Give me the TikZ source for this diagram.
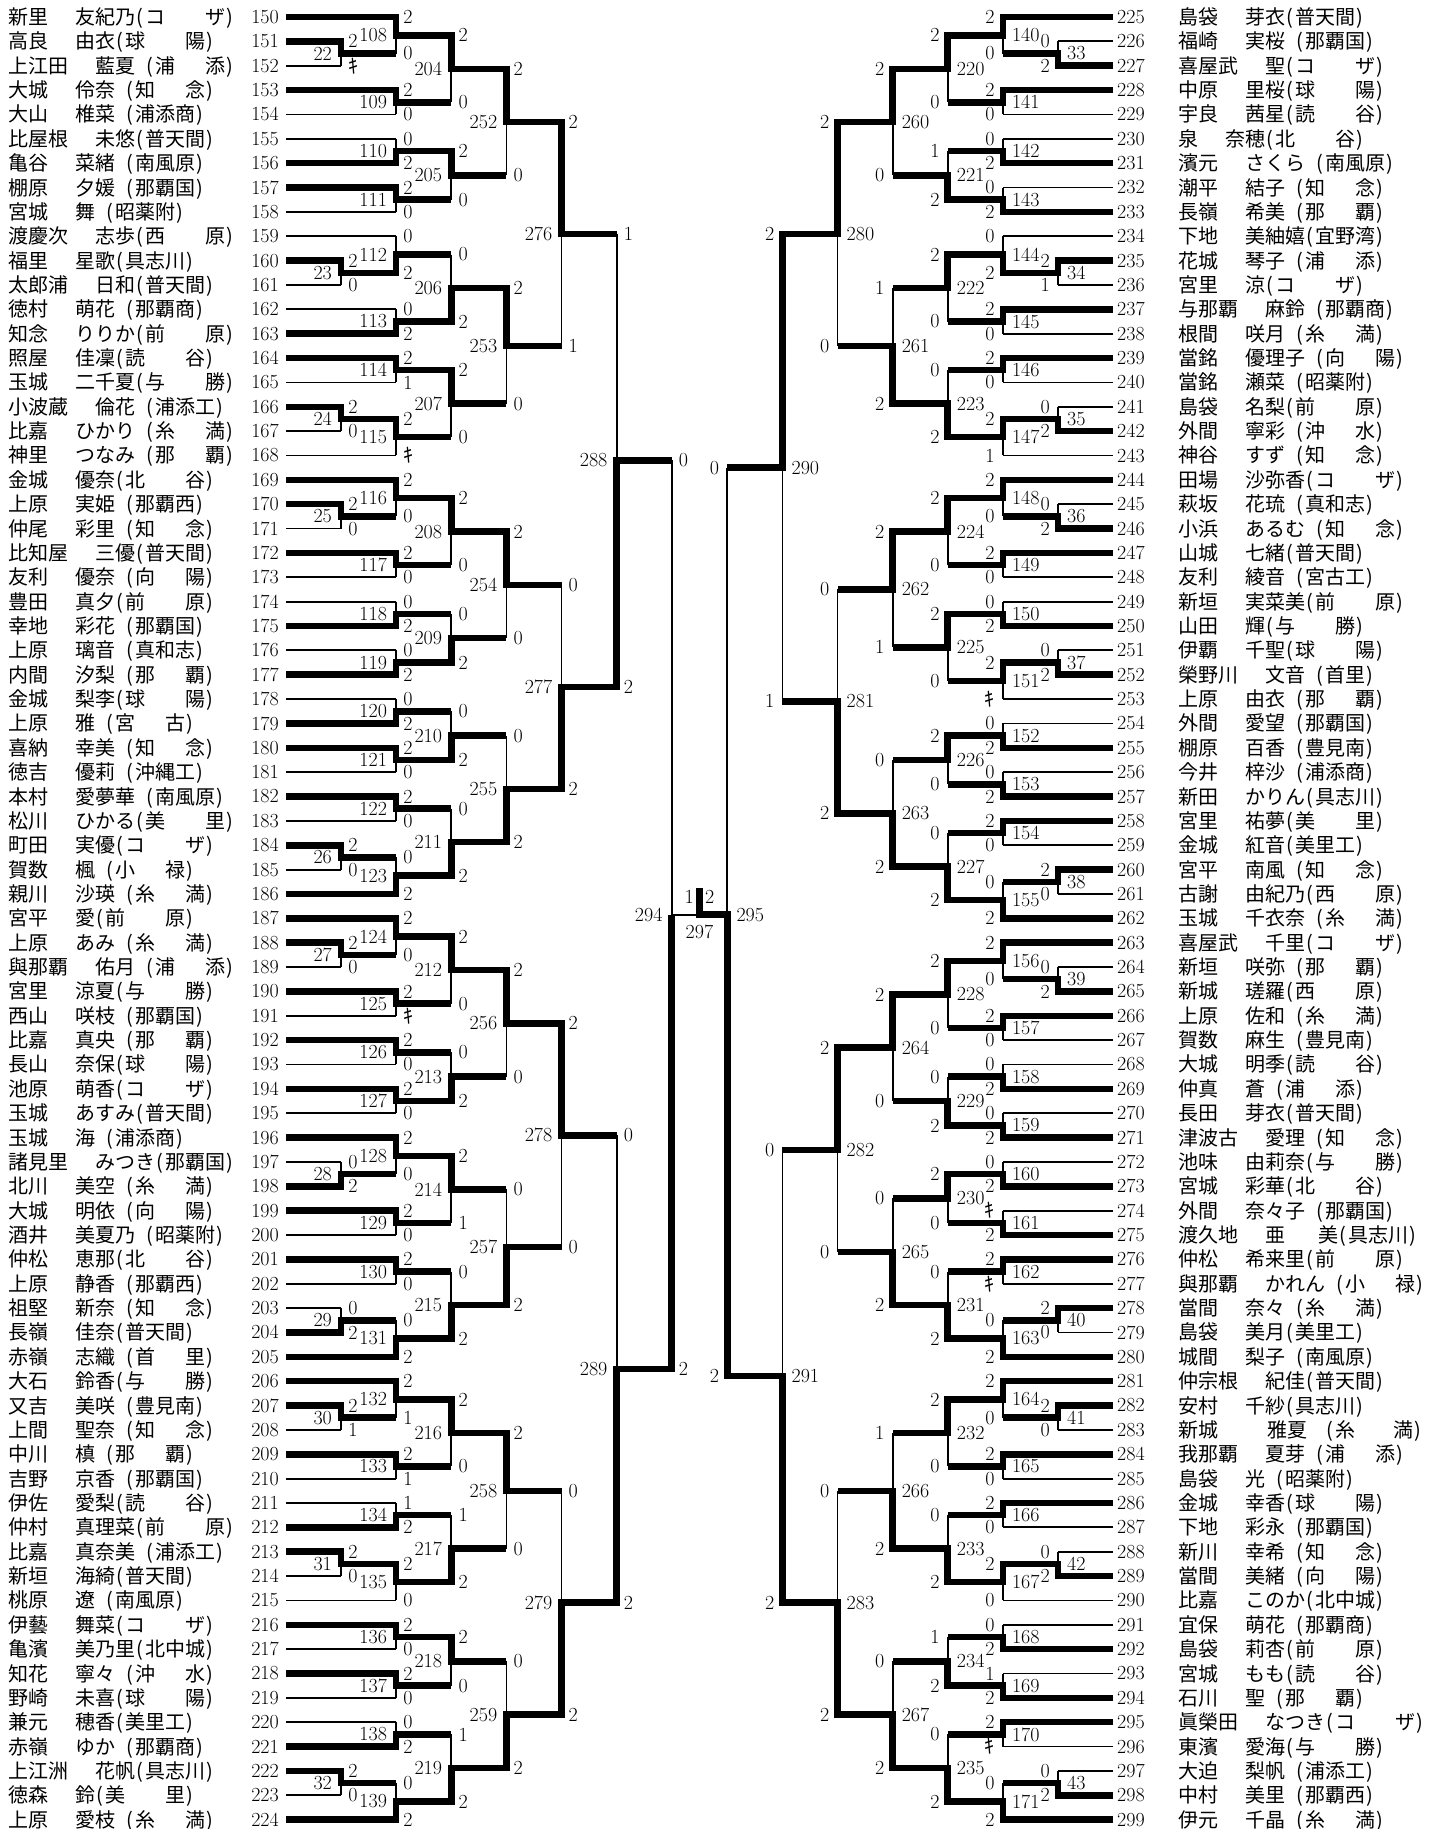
\documentclass[tikz,border=0pt]{standalone}
\usepackage{fontspec}
\newfontfamily\jp{Noto Sans CJK JP}
\usetikzlibrary{calc}
\newcommand\lp{\makebox[10pt]{(}}
\newcommand\rp{\makebox[10pt]{)}}
\newcommand\gp{\hspace{27pt}}
\newcommand\sA[2]{\lp#1\hspace{40pt}#2\rp}
\newcommand\sB[2]{\hspace{10pt}\lp#1\hspace{30pt}#2\rp}
\newcommand\tA[1]{\lp#1\rp}
\newcommand\tB[1]{\hspace{10pt}\lp#1\rp}
\newcommand\kk{{\jp ｷ}}
\tikzset{
 tk/.style={line width=6.5pt},
 tkm/.style={line width=6.5pt, shorten <=-3.25pt},
 tn/.style={line width=1.8pt},
 sc/.style={inner sep=0pt, font=\fontsize{20}{23}\selectfont},
 nm/.style={inner sep=0pt, anchor=base west, yshift=-7.5pt, font=\jp\fontsize{20}{24}\selectfont},
}
% players
\newcommand\PL[4]{%
 \coordinate (P#1) at (286,{#1-150});
 \node[sc,anchor=east] (n#1) at (279,{#1-150}) {#1};
 \node[nm] (t#1) at (8,{#1-150}) {#2\gp#3#4};}
\newcommand\PR[4]{%
 \coordinate (P#1) at (1113,{#1-225});
 \node[sc,anchor=west] (n#1) at (1117,{#1-225}) {#1};
 \node[nm] (t#1) at (1178,{#1-225}) {#2\gp#3#4};}
% matches: id, level, top, bottom, top style, bottom style, winner t/b, score top, score bottom
\newcommand\mdraw[7]{%
 \if t#7
  \draw[#5] (#3) -- (#3 -| M#1) -- (M#1);
  \draw[#6] (#4) -- (#4 -| M#1);
  \draw[tn] (M#1) -- (#4 -| M#1);
 \else
  \draw[#5] (#3) -- (#3 -| M#1);
  \draw[tn] (#3 -| M#1) -- (M#1);
  \draw[#6] (#4) -- (#4 -| M#1) -- (M#1);
 \fi}
\newcommand\mL[9]{%
 \coordinate (tmp) at ($(#3)!0.5!(#4)$);
 \coordinate (X#1) at ({286+55.1*#2},0);
 \coordinate (M#1) at (X#1 |- tmp);
 \mdraw{#1}{#2}{#3}{#4}{#5}{#6}{#7}
 \node[sc,anchor=west,xshift=7pt] (s#1a) at (#3 -| M#1) {#8};
 \node[sc,anchor=west,xshift=7pt] (s#1b) at (#4 -| M#1) {#9};
 \node[sc,anchor=east,xshift=-9pt] (m#1) at (M#1) {#1};}
\newcommand\mR[9]{%
 \coordinate (tmp) at ($(#3)!0.5!(#4)$);
 \coordinate (X#1) at ({1113-55.1*#2},0);
 \coordinate (M#1) at (X#1 |- tmp);
 \mdraw{#1}{#2}{#3}{#4}{#5}{#6}{#7}
 \node[sc,anchor=east,xshift=-8pt] (s#1a) at (#3 -| M#1) {#8};
 \node[sc,anchor=east,xshift=-8pt] (s#1b) at (#4 -| M#1) {#9};
 \node[sc,anchor=west,xshift=9pt] (m#1) at (M#1) {#1};}
\begin{document}
\begin{tikzpicture}[x=1pt,y={(0pt,-24.36pt)}]
\useasboundingbox[fill=white] (0,-0.69787) rectangle (1441,74.3842);
% ---------------- left players
\PL{150}{新里}{友紀乃}{\sA{コ}{ザ}}
\PL{151}{高良}{由衣}{\sA{球}{陽}}
\PL{152}{上江田}{藍夏}{\sB{浦}{添}}
\PL{153}{大城}{伶奈}{\sB{知}{念}}
\PL{154}{大山}{椎菜}{\tB{浦添商}}
\PL{155}{比屋根}{未悠}{\tA{普天間}}
\PL{156}{亀谷}{菜緒}{\tB{南風原}}
\PL{157}{棚原}{夕媛}{\tB{那覇国}}
\PL{158}{宮城}{舞}{\tB{昭薬附}}
\PL{159}{渡慶次}{志歩}{\sA{西}{原}}
\PL{160}{福里}{星歌}{\tA{具志川}}
\PL{161}{太郎浦}{日和}{\tA{普天間}}
\PL{162}{徳村}{萌花}{\tB{那覇商}}
\PL{163}{知念}{りりか}{\sA{前}{原}}
\PL{164}{照屋}{佳凜}{\sA{読}{谷}}
\PL{165}{玉城}{二千夏}{\sA{与}{勝}}
\PL{166}{小波蔵}{倫花}{\tB{浦添工}}
\PL{167}{比嘉}{ひかり}{\sB{糸}{満}}
\PL{168}{神里}{つなみ}{\sB{那}{覇}}
\PL{169}{金城}{優奈}{\sA{北}{谷}}
\PL{170}{上原}{実姫}{\tB{那覇西}}
\PL{171}{仲尾}{彩里}{\sB{知}{念}}
\PL{172}{比知屋}{三優}{\tA{普天間}}
\PL{173}{友利}{優奈}{\sB{向}{陽}}
\PL{174}{豊田}{真夕}{\sA{前}{原}}
\PL{175}{幸地}{彩花}{\tB{那覇国}}
\PL{176}{上原}{璃音}{\tB{真和志}}
\PL{177}{内間}{汐梨}{\sB{那}{覇}}
\PL{178}{金城}{梨李}{\sA{球}{陽}}
\PL{179}{上原}{雅}{\sB{宮}{古}}
\PL{180}{喜納}{幸美}{\sB{知}{念}}
\PL{181}{徳吉}{優莉}{\tB{沖縄工}}
\PL{182}{本村}{愛夢華}{\tB{南風原}}
\PL{183}{松川}{ひかる}{\sA{美}{里}}
\PL{184}{町田}{実優}{\sA{コ}{ザ}}
\PL{185}{賀数}{楓}{\sB{小}{禄}}
\PL{186}{親川}{沙瑛}{\sB{糸}{満}}
\PL{187}{宮平}{愛}{\sA{前}{原}}
\PL{188}{上原}{あみ}{\sB{糸}{満}}
\PL{189}{與那覇}{佑月}{\sB{浦}{添}}
\PL{190}{宮里}{涼夏}{\sA{与}{勝}}
\PL{191}{西山}{咲枝}{\tB{那覇国}}
\PL{192}{比嘉}{真央}{\sB{那}{覇}}
\PL{193}{長山}{奈保}{\sA{球}{陽}}
\PL{194}{池原}{萌香}{\sA{コ}{ザ}}
\PL{195}{玉城}{あすみ}{\tA{普天間}}
\PL{196}{玉城}{海}{\tB{浦添商}}
\PL{197}{諸見里}{みつき}{\tA{那覇国}}
\PL{198}{北川}{美空}{\sB{糸}{満}}
\PL{199}{大城}{明依}{\sB{向}{陽}}
\PL{200}{酒井}{美夏乃}{\tB{昭薬附}}
\PL{201}{仲松}{恵那}{\sA{北}{谷}}
\PL{202}{上原}{静香}{\tB{那覇西}}
\PL{203}{祖堅}{新奈}{\sB{知}{念}}
\PL{204}{長嶺}{佳奈}{\tA{普天間}}
\PL{205}{赤嶺}{志織}{\sB{首}{里}}
\PL{206}{大石}{鈴香}{\sA{与}{勝}}
\PL{207}{又吉}{美咲}{\tB{豊見南}}
\PL{208}{上間}{聖奈}{\sB{知}{念}}
\PL{209}{中川}{槙}{\sB{那}{覇}}
\PL{210}{吉野}{京香}{\tB{那覇国}}
\PL{211}{伊佐}{愛梨}{\sA{読}{谷}}
\PL{212}{仲村}{真理菜}{\sA{前}{原}}
\PL{213}{比嘉}{真奈美}{\tB{浦添工}}
\PL{214}{新垣}{海綺}{\tA{普天間}}
\PL{215}{桃原}{遼}{\tB{南風原}}
\PL{216}{伊藝}{舞菜}{\sA{コ}{ザ}}
\PL{217}{亀濱}{美乃里}{\tA{北中城}}
\PL{218}{知花}{寧々}{\sB{沖}{水}}
\PL{219}{野崎}{未喜}{\sA{球}{陽}}
\PL{220}{兼元}{穂香}{\tA{美里工}}
\PL{221}{赤嶺}{ゆか}{\tB{那覇商}}
\PL{222}{上江洲}{花帆}{\tA{具志川}}
\PL{223}{徳森}{鈴}{\sA{美}{里}}
\PL{224}{上原}{愛枝}{\sB{糸}{満}}
% ---------------- right players
\PR{225}{島袋}{芽衣}{\tA{普天間}}
\PR{226}{福崎}{実桜}{\tB{那覇国}}
\PR{227}{喜屋武}{聖}{\sA{コ}{ザ}}
\PR{228}{中原}{里桜}{\sA{球}{陽}}
\PR{229}{宇良}{茜星}{\sA{読}{谷}}
\PR{230}{泉}{奈穂}{\sA{北}{谷}}
\PR{231}{濱元}{さくら}{\tB{南風原}}
\PR{232}{潮平}{結子}{\sB{知}{念}}
\PR{233}{長嶺}{希美}{\sB{那}{覇}}
\PR{234}{下地}{美紬嬉}{\tA{宜野湾}}
\PR{235}{花城}{琴子}{\sB{浦}{添}}
\PR{236}{宮里}{涼}{\sA{コ}{ザ}}
\PR{237}{与那覇}{麻鈴}{\tB{那覇商}}
\PR{238}{根間}{咲月}{\sB{糸}{満}}
\PR{239}{當銘}{優理子}{\sB{向}{陽}}
\PR{240}{當銘}{瀬菜}{\tB{昭薬附}}
\PR{241}{島袋}{名梨}{\sA{前}{原}}
\PR{242}{外間}{寧彩}{\sB{沖}{水}}
\PR{243}{神谷}{すず}{\sB{知}{念}}
\PR{244}{田場}{沙弥香}{\sA{コ}{ザ}}
\PR{245}{萩坂}{花琉}{\tB{真和志}}
\PR{246}{小浜}{あるむ}{\sB{知}{念}}
\PR{247}{山城}{七緒}{\tA{普天間}}
\PR{248}{友利}{綾音}{\tB{宮古工}}
\PR{249}{新垣}{実菜美}{\sA{前}{原}}
\PR{250}{山田}{輝}{\sA{与}{勝}}
\PR{251}{伊覇}{千聖}{\sA{球}{陽}}
\PR{252}{榮野川}{文音}{\tB{首里}}
\PR{253}{上原}{由衣}{\sB{那}{覇}}
\PR{254}{外間}{愛望}{\tB{那覇国}}
\PR{255}{棚原}{百香}{\tB{豊見南}}
\PR{256}{今井}{梓沙}{\tB{浦添商}}
\PR{257}{新田}{かりん}{\tA{具志川}}
\PR{258}{宮里}{祐夢}{\sA{美}{里}}
\PR{259}{金城}{紅音}{\tA{美里工}}
\PR{260}{宮平}{南風}{\sB{知}{念}}
\PR{261}{古謝}{由紀乃}{\sA{西}{原}}
\PR{262}{玉城}{千衣奈}{\sB{糸}{満}}
\PR{263}{喜屋武}{千里}{\sA{コ}{ザ}}
\PR{264}{新垣}{咲弥}{\sB{那}{覇}}
\PR{265}{新城}{瑳羅}{\sA{西}{原}}
\PR{266}{上原}{佐和}{\sB{糸}{満}}
\PR{267}{賀数}{麻生}{\tB{豊見南}}
\PR{268}{大城}{明季}{\sA{読}{谷}}
\PR{269}{仲真}{蒼}{\sB{浦}{添}}
\PR{270}{長田}{芽衣}{\tA{普天間}}
\PR{271}{津波古}{愛理}{\sB{知}{念}}
\PR{272}{池味}{由莉奈}{\sA{与}{勝}}
\PR{273}{宮城}{彩華}{\sA{北}{谷}}
\PR{274}{外間}{奈々子}{\tB{那覇国}}
\PR{275}{渡久地}{亜\hspace{33pt}美}{\tA{具志川}}
\PR{276}{仲松}{希来里}{\sA{前}{原}}
\PR{277}{與那覇}{かれん}{\sB{小}{禄}}
\PR{278}{當間}{奈々}{\sB{糸}{満}}
\PR{279}{島袋}{美月}{\tA{美里工}}
\PR{280}{城間}{梨子}{\tB{南風原}}
\PR{281}{仲宗根}{紀佳}{\tA{普天間}}
\PR{282}{安村}{千紗}{\tA{具志川}}
\PR{283}{新城}{\hspace{22pt}雅夏}{\hspace{18pt}\lp 糸\hspace{38pt}満\rp}
\PR{284}{我那覇}{夏芽}{\sB{浦}{添}}
\PR{285}{島袋}{光}{\tB{昭薬附}}
\PR{286}{金城}{幸香}{\sA{球}{陽}}
\PR{287}{下地}{彩永}{\tB{那覇国}}
\PR{288}{新川}{幸希}{\sB{知}{念}}
\PR{289}{當間}{美緒}{\sB{向}{陽}}
\PR{290}{比嘉}{このか}{\tA{北中城}}
\PR{291}{宜保}{萌花}{\tB{那覇商}}
\PR{292}{島袋}{莉杏}{\sA{前}{原}}
\PR{293}{宮城}{もも}{\sA{読}{谷}}
\PR{294}{石川}{聖}{\sB{那}{覇}}
\PR{295}{眞榮田}{なつき}{\sA{コ}{ザ}}
\PR{296}{東濱}{愛海}{\sA{与}{勝}}
\PR{297}{大迫}{梨帆}{\tB{浦添工}}
\PR{298}{中村}{美里}{\tB{那覇西}}
\PR{299}{伊元}{千晶}{\sB{糸}{満}}
% ---------------- left prelims
\mL{22}{1}{P151}{P152}{tk}{tn}{t}{2}{\kk}
\mL{23}{1}{P160}{P161}{tk}{tn}{t}{2}{0}
\mL{24}{1}{P166}{P167}{tk}{tn}{t}{2}{0}
\mL{25}{1}{P170}{P171}{tk}{tn}{t}{2}{0}
\mL{26}{1}{P184}{P185}{tk}{tn}{t}{2}{0}
\mL{27}{1}{P188}{P189}{tk}{tn}{t}{2}{0}
\mL{28}{1}{P197}{P198}{tn}{tk}{b}{0}{2}
\mL{29}{1}{P203}{P204}{tn}{tk}{b}{0}{2}
\mL{30}{1}{P207}{P208}{tk}{tn}{t}{2}{1}
\mL{31}{1}{P213}{P214}{tk}{tn}{t}{2}{0}
\mL{32}{1}{P222}{P223}{tk}{tn}{t}{2}{0}
% left round 1
\mL{108}{2}{P150}{M22}{tk}{tkm}{t}{2}{0}
\mL{109}{2}{P153}{P154}{tk}{tn}{t}{2}{0}
\mL{110}{2}{P155}{P156}{tn}{tk}{b}{0}{2}
\mL{111}{2}{P157}{P158}{tk}{tn}{t}{2}{0}
\mL{112}{2}{P159}{M23}{tn}{tkm}{b}{0}{2}
\mL{113}{2}{P162}{P163}{tn}{tk}{b}{0}{2}
\mL{114}{2}{P164}{P165}{tk}{tn}{t}{2}{1}
\mL{115}{2}{M24}{P168}{tkm}{tn}{t}{2}{\kk}
\mL{116}{2}{P169}{M25}{tk}{tkm}{t}{2}{0}
\mL{117}{2}{P172}{P173}{tk}{tn}{t}{2}{0}
\mL{118}{2}{P174}{P175}{tn}{tk}{b}{0}{2}
\mL{119}{2}{P176}{P177}{tn}{tk}{b}{0}{2}
\mL{120}{2}{P178}{P179}{tn}{tk}{b}{0}{2}
\mL{121}{2}{P180}{P181}{tk}{tn}{t}{2}{0}
\mL{122}{2}{P182}{P183}{tk}{tn}{t}{2}{0}
\mL{123}{2}{M26}{P186}{tkm}{tk}{b}{0}{2}
\mL{124}{2}{P187}{M27}{tk}{tkm}{t}{2}{0}
\mL{125}{2}{P190}{P191}{tk}{tn}{t}{2}{\kk}
\mL{126}{2}{P192}{P193}{tk}{tn}{t}{2}{0}
\mL{127}{2}{P194}{P195}{tk}{tn}{t}{2}{0}
\mL{128}{2}{P196}{M28}{tk}{tkm}{t}{2}{0}
\mL{129}{2}{P199}{P200}{tk}{tn}{t}{2}{0}
\mL{130}{2}{P201}{P202}{tk}{tn}{t}{2}{0}
\mL{131}{2}{M29}{P205}{tkm}{tk}{b}{0}{2}
\mL{132}{2}{P206}{M30}{tk}{tkm}{t}{2}{1}
\mL{133}{2}{P209}{P210}{tk}{tn}{t}{2}{1}
\mL{134}{2}{P211}{P212}{tn}{tk}{b}{1}{2}
\mL{135}{2}{M31}{P215}{tkm}{tn}{t}{2}{0}
\mL{136}{2}{P216}{P217}{tk}{tn}{t}{2}{0}
\mL{137}{2}{P218}{P219}{tk}{tn}{t}{2}{0}
\mL{138}{2}{P220}{P221}{tn}{tk}{b}{0}{2}
\mL{139}{2}{M32}{P224}{tkm}{tk}{b}{0}{2}
% left round 2
\mL{204}{3}{M108}{M109}{tkm}{tkm}{t}{2}{0}
\mL{205}{3}{M110}{M111}{tkm}{tkm}{t}{2}{0}
\mL{206}{3}{M112}{M113}{tkm}{tkm}{b}{0}{2}
\mL{207}{3}{M114}{M115}{tkm}{tkm}{t}{2}{0}
\mL{208}{3}{M116}{M117}{tkm}{tkm}{t}{2}{0}
\mL{209}{3}{M118}{M119}{tkm}{tkm}{b}{0}{2}
\mL{210}{3}{M120}{M121}{tkm}{tkm}{b}{0}{2}
\mL{211}{3}{M122}{M123}{tkm}{tkm}{b}{0}{2}
\mL{212}{3}{M124}{M125}{tkm}{tkm}{t}{2}{0}
\mL{213}{3}{M126}{M127}{tkm}{tkm}{b}{0}{2}
\mL{214}{3}{M128}{M129}{tkm}{tkm}{t}{2}{1}
\mL{215}{3}{M130}{M131}{tkm}{tkm}{b}{0}{2}
\mL{216}{3}{M132}{M133}{tkm}{tkm}{t}{2}{0}
\mL{217}{3}{M134}{M135}{tkm}{tkm}{b}{1}{2}
\mL{218}{3}{M136}{M137}{tkm}{tkm}{t}{2}{0}
\mL{219}{3}{M138}{M139}{tkm}{tkm}{b}{1}{2}
% left round 3
\mL{252}{4}{M204}{M205}{tkm}{tkm}{t}{2}{0}
\mL{253}{4}{M206}{M207}{tkm}{tkm}{t}{2}{0}
\mL{254}{4}{M208}{M209}{tkm}{tkm}{t}{2}{0}
\mL{255}{4}{M210}{M211}{tkm}{tkm}{b}{0}{2}
\mL{256}{4}{M212}{M213}{tkm}{tkm}{t}{2}{0}
\mL{257}{4}{M214}{M215}{tkm}{tkm}{b}{0}{2}
\mL{258}{4}{M216}{M217}{tkm}{tkm}{t}{2}{0}
\mL{259}{4}{M218}{M219}{tkm}{tkm}{b}{0}{2}
% left round 4, 5, semi
\mL{276}{5}{M252}{M253}{tkm}{tkm}{t}{2}{1}
\mL{277}{5}{M254}{M255}{tkm}{tkm}{b}{0}{2}
\mL{278}{5}{M256}{M257}{tkm}{tkm}{t}{2}{0}
\mL{279}{5}{M258}{M259}{tkm}{tkm}{b}{0}{2}
\mL{288}{6}{M276}{M277}{tkm}{tkm}{b}{1}{2}
\mL{289}{6}{M278}{M279}{tkm}{tkm}{b}{0}{2}
\mL{294}{7}{M288}{M289}{tkm}{tkm}{b}{0}{2}
% ---------------- right prelims
\mR{33}{1}{P226}{P227}{tn}{tk}{b}{0}{2}
\mR{34}{1}{P235}{P236}{tk}{tn}{t}{2}{1}
\mR{35}{1}{P241}{P242}{tn}{tk}{b}{0}{2}
\mR{36}{1}{P245}{P246}{tn}{tk}{b}{0}{2}
\mR{37}{1}{P251}{P252}{tn}{tk}{b}{0}{2}
\mR{38}{1}{P260}{P261}{tk}{tn}{t}{2}{0}
\mR{39}{1}{P264}{P265}{tn}{tk}{b}{0}{2}
\mR{40}{1}{P278}{P279}{tk}{tn}{t}{2}{0}
\mR{41}{1}{P282}{P283}{tk}{tn}{t}{2}{0}
\mR{42}{1}{P288}{P289}{tn}{tk}{b}{0}{2}
\mR{43}{1}{P297}{P298}{tn}{tk}{b}{0}{2}
% right round 1
\mR{140}{2}{P225}{M33}{tk}{tkm}{t}{2}{0}
\mR{141}{2}{P228}{P229}{tk}{tn}{t}{2}{0}
\mR{142}{2}{P230}{P231}{tn}{tk}{b}{0}{2}
\mR{143}{2}{P232}{P233}{tn}{tk}{b}{0}{2}
\mR{144}{2}{P234}{M34}{tn}{tkm}{b}{0}{2}
\mR{145}{2}{P237}{P238}{tk}{tn}{t}{2}{0}
\mR{146}{2}{P239}{P240}{tk}{tn}{t}{2}{0}
\mR{147}{2}{M35}{P243}{tkm}{tn}{t}{2}{1}
\mR{148}{2}{P244}{M36}{tk}{tkm}{t}{2}{0}
\mR{149}{2}{P247}{P248}{tk}{tn}{t}{2}{0}
\mR{150}{2}{P249}{P250}{tn}{tk}{b}{0}{2}
\mR{151}{2}{M37}{P253}{tkm}{tn}{t}{2}{\kk}
\mR{152}{2}{P254}{P255}{tn}{tk}{b}{0}{2}
\mR{153}{2}{P256}{P257}{tn}{tk}{b}{0}{2}
\mR{154}{2}{P258}{P259}{tk}{tn}{t}{2}{0}
\mR{155}{2}{M38}{P262}{tkm}{tk}{b}{0}{2}
\mR{156}{2}{P263}{M39}{tk}{tkm}{t}{2}{0}
\mR{157}{2}{P266}{P267}{tk}{tn}{t}{2}{0}
\mR{158}{2}{P268}{P269}{tn}{tk}{b}{0}{2}
\mR{159}{2}{P270}{P271}{tn}{tk}{b}{0}{2}
\mR{160}{2}{P272}{P273}{tn}{tk}{b}{0}{2}
\mR{161}{2}{P274}{P275}{tn}{tk}{b}{\kk}{2}
\mR{162}{2}{P276}{P277}{tk}{tn}{t}{2}{\kk}
\mR{163}{2}{M40}{P280}{tkm}{tk}{b}{0}{2}
\mR{164}{2}{P281}{M41}{tk}{tkm}{t}{2}{0}
\mR{165}{2}{P284}{P285}{tk}{tn}{t}{2}{0}
\mR{166}{2}{P286}{P287}{tk}{tn}{t}{2}{0}
\mR{167}{2}{M42}{P290}{tkm}{tn}{t}{2}{0}
\mR{168}{2}{P291}{P292}{tn}{tk}{b}{0}{2}
\mR{169}{2}{P293}{P294}{tn}{tk}{b}{1}{2}
\mR{170}{2}{P295}{P296}{tk}{tn}{t}{2}{\kk}
\mR{171}{2}{M43}{P299}{tkm}{tk}{b}{0}{2}
% right round 2
\mR{220}{3}{M140}{M141}{tkm}{tkm}{t}{2}{0}
\mR{221}{3}{M142}{M143}{tkm}{tkm}{b}{1}{2}
\mR{222}{3}{M144}{M145}{tkm}{tkm}{t}{2}{0}
\mR{223}{3}{M146}{M147}{tkm}{tkm}{b}{0}{2}
\mR{224}{3}{M148}{M149}{tkm}{tkm}{t}{2}{0}
\mR{225}{3}{M150}{M151}{tkm}{tkm}{t}{2}{0}
\mR{226}{3}{M152}{M153}{tkm}{tkm}{t}{2}{0}
\mR{227}{3}{M154}{M155}{tkm}{tkm}{b}{0}{2}
\mR{228}{3}{M156}{M157}{tkm}{tkm}{t}{2}{0}
\mR{229}{3}{M158}{M159}{tkm}{tkm}{b}{0}{2}
\mR{230}{3}{M160}{M161}{tkm}{tkm}{t}{2}{0}
\mR{231}{3}{M162}{M163}{tkm}{tkm}{b}{0}{2}
\mR{232}{3}{M164}{M165}{tkm}{tkm}{t}{2}{0}
\mR{233}{3}{M166}{M167}{tkm}{tkm}{b}{0}{2}
\mR{234}{3}{M168}{M169}{tkm}{tkm}{b}{1}{2}
\mR{235}{3}{M170}{M171}{tkm}{tkm}{b}{0}{2}
% right round 3
\mR{260}{4}{M220}{M221}{tkm}{tkm}{t}{2}{0}
\mR{261}{4}{M222}{M223}{tkm}{tkm}{b}{1}{2}
\mR{262}{4}{M224}{M225}{tkm}{tkm}{t}{2}{1}
\mR{263}{4}{M226}{M227}{tkm}{tkm}{b}{0}{2}
\mR{264}{4}{M228}{M229}{tkm}{tkm}{t}{2}{0}
\mR{265}{4}{M230}{M231}{tkm}{tkm}{b}{0}{2}
\mR{266}{4}{M232}{M233}{tkm}{tkm}{b}{1}{2}
\mR{267}{4}{M234}{M235}{tkm}{tkm}{b}{0}{2}
% right round 4, 5
\mR{280}{5}{M260}{M261}{tkm}{tkm}{t}{2}{0}
\mR{281}{5}{M262}{M263}{tkm}{tkm}{b}{0}{2}
\mR{282}{5}{M264}{M265}{tkm}{tkm}{t}{2}{0}
\mR{283}{5}{M266}{M267}{tkm}{tkm}{b}{0}{2}
\mR{290}{6}{M280}{M281}{tkm}{tkm}{t}{2}{1}
\mR{291}{6}{M282}{M283}{tkm}{tkm}{b}{0}{2}
% right semi (junction level with the left one)
\coordinate (X295) at (727.3,0);
\coordinate (M295) at (X295 |- M294);
\mdraw{295}{7}{M290}{M291}{tkm}{tkm}{b}
\node[sc,anchor=east,xshift=-8pt] (s295a) at (M290 -| M295) {0};
\node[sc,anchor=east,xshift=-8pt] (s295b) at (M291 -| M295) {2};
\node[sc,anchor=west,xshift=9pt] (m295) at (M295) {295};
% ---------------- final
\coordinate (Cx) at (699.5,0);
\coordinate (C) at (Cx |- M294);
\coordinate (W) at (699.5,35.75);
\draw[tn] (M294) -- (C);
\draw[tkm] (M295) -- (C);
\draw[tk,shorten <=-3.25pt] (C) -- (W);
\node[sc,anchor=east] (s297a) at (694,36.12) {1};
\node[sc,anchor=west] (s297b) at (705,36.12) {2};
\node[sc] (m297) at (699.5,37.56) {297};
\end{tikzpicture}
\end{document}
